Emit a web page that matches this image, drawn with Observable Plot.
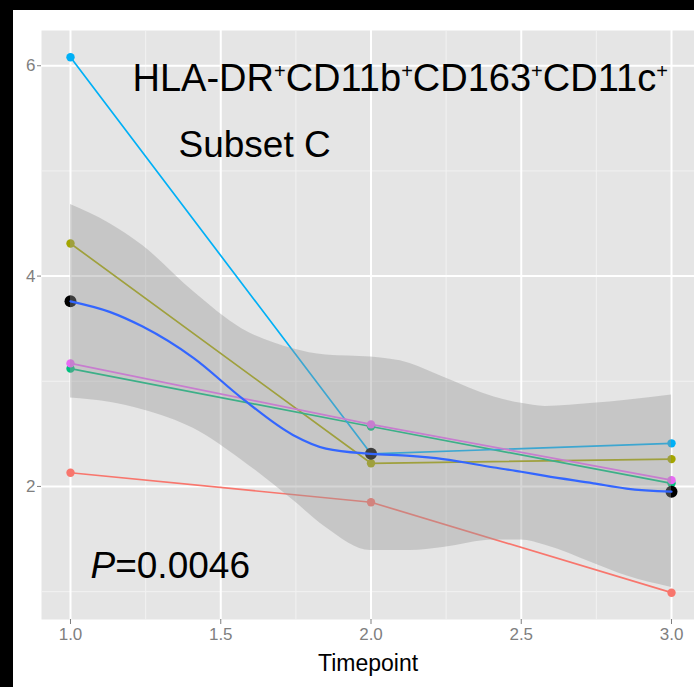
<!DOCTYPE html>
<html>
<head>
<meta charset="utf-8">
<script src="https://cdn.jsdelivr.net/npm/d3@7"></script>
<script src="https://cdn.jsdelivr.net/npm/@observablehq/plot@0.6"></script>
<style>
  html, body { margin: 0; padding: 0; background: #000; }
  #wrap { padding-left: 13px; padding-top: 10px; width: 681px; height: 677px; }
  #wrap svg { display: block; }
</style>
</head>
<body>
<div id="wrap"></div>
<script>
// ---- data ----
const timepoints = [1, 2, 3];
const subjects = ["S1", "S2", "S3", "S4", "S5"];
const subjectColors = ["#F8766D", "#A3A500", "#00BF7D", "#00B0F6", "#E76BF3"];
const valuesS1 = [2.13, 1.85, 0.99];
const valuesS2 = [4.31, 2.22, 2.26];
const valuesS3 = [3.12, 2.57, 2.03];
const valuesS4 = [6.08, 2.31, 2.41];
const valuesS5 = [3.17, 2.59, 2.06];
const meanValues = [3.76, 2.31, 1.95];

// smoothed fit (loess) with confidence band
const smoothX    = [1.0, 1.13, 1.24, 1.41, 1.57, 1.74, 1.85, 2.0, 2.13, 2.24, 2.41, 2.5, 2.58, 2.74, 2.85, 3.0];
const smoothY    = [3.76, 3.66, 3.52, 3.22, 2.84, 2.49, 2.36, 2.31, 2.29, 2.26, 2.18, 2.14, 2.10, 2.03, 1.98, 1.95];
const bandLow    = [2.84, 2.80, 2.73, 2.55, 2.25, 1.87, 1.61, 1.39, 1.39, 1.42, 1.49, 1.49, 1.44, 1.27, 1.15, 1.04];
const bandHigh   = [4.68, 4.50, 4.29, 3.85, 3.50, 3.31, 3.25, 3.23, 3.17, 3.04, 2.85, 2.79, 2.76, 2.79, 2.82, 2.87];

const xTicks = [1.0, 1.5, 2.0, 2.5, 3.0];
const xMinor = [1.25, 1.75, 2.25, 2.75];
const yTicks = [2, 4, 6];
const yMinor = [1, 3, 5];

const titleText = "HLA-DR+CD11b+CD163+CD11c+";
const subtitleText = "Subset C";
const pText = "P=0.0046";
const xLabel = "Timepoint";

// ---- tables ----
const allValues = [valuesS1, valuesS2, valuesS3, valuesS4, valuesS5];
const rows = subjects.flatMap((id, i) => timepoints.map((t, j) => ({id, t, v: allValues[i][j]})));
const means = timepoints.map((t, j) => ({t, v: meanValues[j]}));
const smooth = smoothX.map((x, i) => ({x, y: smoothY[i], lo: bandLow[i], hi: bandHigh[i]}));

const font = "'Liberation Sans', Arial, Helvetica, sans-serif";

const svg = Plot.plot({
  width: 681,
  height: 677,
  marginLeft: 28,
  marginRight: 0,
  marginTop: 20,
  marginBottom: 68,
  style: {background: "white", fontFamily: font},
  x: {domain: [0.9035, 3.0765]},
  y: {domain: [0.735, 6.335]},
  color: {domain: subjects, range: subjectColors},
  marks: [
    Plot.frame({fill: "#E5E5E5", stroke: null}),
    Plot.gridX(xMinor, {stroke: "#F2F2F2", strokeOpacity: 1, strokeWidth: 1}),
    Plot.gridY(yMinor, {stroke: "#F2F2F2", strokeOpacity: 1, strokeWidth: 1}),
    Plot.gridX(xTicks, {stroke: "#FFFFFF", strokeOpacity: 1, strokeWidth: 2}),
    Plot.gridY(yTicks, {stroke: "#FFFFFF", strokeOpacity: 1, strokeWidth: 2}),
    Plot.axisX(xTicks, {tickFormat: d3.format(".1f"), tickSize: 5, tickPadding: 3, fontSize: 17,
      stroke: "#7F7F7F", fill: "#7F7F7F", label: null}),
    Plot.axisY(yTicks, {tickFormat: d3.format("d"), tickSize: 4, tickPadding: 2, fontSize: 17,
      stroke: "#7F7F7F", fill: "#7F7F7F", label: null}),
    Plot.line(rows, {x: "t", y: "v", z: "id", stroke: "id", strokeWidth: 1.7}),
    Plot.dot(rows, {x: "t", y: "v", fill: "id", r: 4.2}),
    Plot.dot(means, {x: "t", y: "v", fill: "black", r: 6}),
    Plot.areaY(smooth, {x: "x", y1: "lo", y2: "hi", fill: "#999999", fillOpacity: 0.4, curve: "monotone-x"}),
    Plot.line(smooth, {x: "x", y: "y", stroke: "#3366FF", strokeWidth: 2.2, curve: "monotone-x"}),
    Plot.text([titleText], {frameAnchor: "top-left", dx: 91, dy: 48, text: d => d, fontSize: 38,
      textAnchor: "start", lineAnchor: "middle", fill: "black"}),
    Plot.text([subtitleText], {frameAnchor: "top-left", dx: 137, dy: 115, text: d => d, fontSize: 37,
      textAnchor: "start", lineAnchor: "middle", fill: "black"}),
    Plot.text([pText], {frameAnchor: "bottom-left", dx: 49, dy: -53, text: d => d, fontSize: 37,
      textAnchor: "start", lineAnchor: "middle", fill: "black"}),
    Plot.text([xLabel], {frameAnchor: "bottom", dy: 44, text: d => d, fontSize: 23,
      textAnchor: "middle", lineAnchor: "middle", fill: "black"})
  ]
});

// superscript plus signs in the title
d3.select(svg).selectAll("text").filter(function() { return this.textContent === titleText; })
  .each(function() {
    const t = d3.select(this);
    const parts = titleText.split("+");
    t.text("");
    let raised = false;
    parts.forEach((p, i) => {
      if (p) {
        const ts = t.append("tspan").text(p);
        if (raised) { ts.attr("dy", 13); raised = false; }
      }
      if (i < parts.length - 1) {
        t.append("tspan").text("+").attr("font-size", 20).attr("dy", -13);
        raised = true;
      }
    });
  });

// italic P
d3.select(svg).selectAll("text").filter(function() { return this.textContent === pText; })
  .each(function() {
    const t = d3.select(this);
    t.text("");
    t.append("tspan").attr("font-style", "italic").text(pText.slice(0, 1));
    t.append("tspan").text(pText.slice(1));
  });

document.getElementById("wrap").appendChild(svg);
</script>
</body>
</html>
